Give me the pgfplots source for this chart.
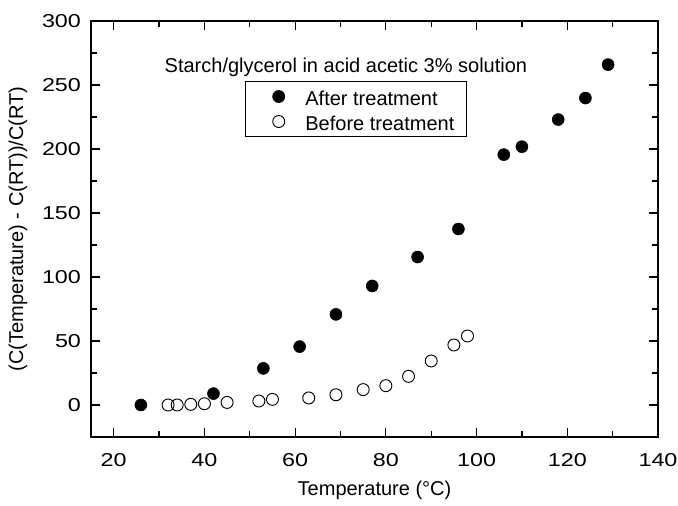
\documentclass[border=0pt]{standalone}
\usepackage{fontspec}
\setmainfont{Liberation Sans}
\newfontfamily\tickfont[FakeStretch=1.25]{Liberation Sans}
\usepackage{pgfplots}
\pgfplotsset{compat=1.18}
\begin{document}
\begin{tikzpicture}
\useasboundingbox (0pt,0pt) rectangle (508.5pt,379.5pt);
\begin{axis}[
  at={(68.25pt,51.75pt)}, anchor=south west,
  scale only axis, width=425.25pt, height=312pt,
  xmin=15, xmax=140, ymin=-25, ymax=300,
  xtick={20,40,...,140}, ytick={0,50,...,300},
  minor x tick num=1, minor y tick num=1,
  tick align=inside,
  major tick length=6.75pt, minor tick length=4.5pt,
  axis line style={line width=1.1pt},
  every tick/.style={black, line width=0.9pt},
  /pgf/number format/assume math mode=true,
  ticklabel style={font=\tickfont\fontsize{14pt}{16pt}\selectfont},
  xticklabel style={yshift=-9pt},
  yticklabel style={xshift=-4pt},
  label style={font=\fontsize{15pt}{18pt}\selectfont},
  xlabel={Temperature (°C)},
  ylabel={(C(Temperature) - C(RT))/C(RT)},
  xlabel style={at={(axis description cs:0.5,-0.127)}, anchor=center},
  ylabel style={at={(axis description cs:-0.129,0.5)}, anchor=center},
  legend style={at={(axis description cs:0.2716,0.8558)}, anchor=north west,
    draw=black, line width=0.6pt, font=\fontsize{15pt}{18pt}\selectfont,
    inner xsep=0pt, inner ysep=4.6pt, row sep=5.25pt,
    nodes={inner sep=0pt, text height=13.5pt, text depth=0pt},
    /tikz/every odd column/.append style={column sep=5pt}},
  legend image code/.code={\path[draw=none] (0pt,0pt) -- (40pt,0pt); \draw[#1] plot coordinates {(25pt,0pt)};},
  legend cell align=left,
  clip=false,
]
\addplot[only marks, mark=*, mark size=4.5pt, mark options={fill=black, draw=black}]
  coordinates {
  (26,0) (42,8.9) (53,28.6) (61,45.6) (69,70.8) (77,93) (87,115.6)
  (96,137.5) (106,195.6) (110,201.8) (118,223) (124,239.8) (129,265.9)
  };
\addlegendentry{After treatment}
\addplot[only marks, mark=o, mark size=4.5pt, mark options={draw=black, fill=white, line width=0.7pt}]
  coordinates {
  (32,0) (34,0) (37,0.5) (40,1) (45,2) (52,3.1) (55,4.4) (63,5.5)
  (69,8) (75,12) (80,15.1) (85,22.4) (90,34.4) (95,46.9) (98,53.9)
  };
\addlegendentry{Before treatment\rule{9pt}{0pt}}
\node[font=\fontsize{15pt}{18pt}\selectfont] at (axis cs:71.2,264) {Starch/glycerol in acid acetic 3\% solution};
\end{axis}
\end{tikzpicture}
\end{document}
